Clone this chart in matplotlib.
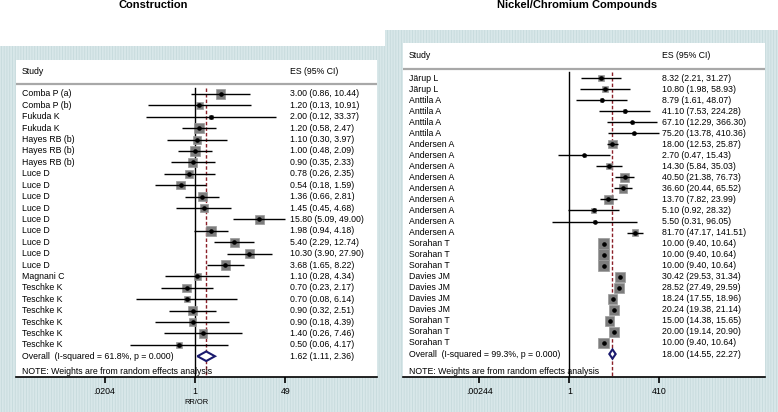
import matplotlib.pyplot as plt
import numpy as np
from matplotlib.patches import Rectangle, Polygon
from matplotlib.transforms import blended_transform_factory

plt.rcParams['font.family'] = ['Liberation Sans', 'DejaVu Sans']
plt.rcParams['hatch.linewidth'] = 0.6

# ---- Construction ----
con_study = ["Comba P (a)", "Comba P (b)", "Fukuda K", "Fukuda K", "Hayes RB (b)",
             "Hayes RB (b)", "Hayes RB (b)", "Luce D", "Luce D", "Luce D", "Luce D",
             "Luce D", "Luce D", "Luce D", "Luce D", "Luce D", "Magnani C",
             "Teschke K", "Teschke K", "Teschke K", "Teschke K", "Teschke K", "Teschke K"]
con_es = [3.00, 1.20, 2.00, 1.20, 1.10, 1.00, 0.90, 0.78, 0.54, 1.36, 1.45, 15.80,
          1.98, 5.40, 10.30, 3.68, 1.10, 0.70, 0.70, 0.90, 0.90, 1.40, 0.50]
con_lo = [0.86, 0.13, 0.12, 0.58, 0.30, 0.48, 0.35, 0.26, 0.18, 0.66, 0.45, 5.09,
          0.94, 2.29, 3.90, 1.65, 0.28, 0.23, 0.08, 0.32, 0.18, 0.26, 0.06]
con_hi = [10.44, 10.91, 33.37, 2.47, 3.97, 2.09, 2.33, 2.35, 1.59, 2.81, 4.68, 49.00,
          4.18, 12.74, 27.90, 8.22, 4.34, 2.17, 6.14, 2.51, 4.39, 7.46, 4.17]
con_w = [5.2, 2.8, 1.1, 5.9, 3.9, 5.2, 5.2, 4.5, 4.5, 5.2, 3.9, 5.2, 5.9, 5.2, 5.2,
         5.2, 3.3, 4.5, 2.3, 5.2, 3.3, 4.5, 2.3]
con_overall = (1.62, 1.11, 2.36)
con_i2 = "61.8%"

# ---- Nickel/Chromium ----
ni_study = ["Järup L", "Järup L", "Anttila A", "Anttila A", "Anttila A", "Anttila A",
            "Andersen A", "Andersen A", "Andersen A", "Andersen A", "Andersen A",
            "Andersen A", "Andersen A", "Andersen A", "Andersen A", "Sorahan T",
            "Sorahan T", "Sorahan T", "Davies JM", "Davies JM", "Davies JM",
            "Davies JM", "Sorahan T", "Sorahan T", "Sorahan T"]
ni_es = [8.32, 10.80, 8.79, 41.10, 67.10, 75.20, 18.00, 2.70, 14.30, 40.50, 36.60,
         13.70, 5.10, 5.50, 81.70, 10.00, 10.00, 10.00, 30.42, 28.52, 18.24, 20.24,
         15.00, 20.00, 10.00]
ni_lo = [2.21, 1.98, 1.61, 7.53, 12.29, 13.78, 12.53, 0.47, 5.84, 21.38, 20.44,
         7.82, 0.92, 0.31, 47.17, 9.40, 9.40, 9.40, 29.53, 27.49, 17.55, 19.38,
         14.38, 19.14, 9.40]
ni_hi = [31.27, 58.93, 48.07, 224.28, 366.30, 410.36, 25.87, 15.43, 35.03, 76.73,
         65.52, 23.99, 28.32, 96.05, 141.51, 10.64, 10.64, 10.64, 31.34, 29.59,
         18.96, 21.14, 15.65, 20.90, 10.64]
ni_w = [2.0, 2.0, 0.7, 0.7, 0.7, 0.7, 4.6, 0.7, 2.5, 4.6, 4.6, 4.6, 1.3, 0.7, 2.5,
        7.4, 7.4, 7.4, 6.6, 6.6, 5.9, 5.9, 5.9, 6.6, 7.4]
ni_overall = (18.00, 14.55, 22.27)
ni_i2 = "99.3%"

W, H = 778, 412
fig = plt.figure(figsize=(W / 100, H / 100), dpi=100)

BG = '#d8e7e9'


def px_rect(x0, y0, x1, y1):
    return [x0 / W, 1 - y1 / H, (x1 - x0) / W, (y1 - y0) / H]


def forest(rect, title, title_x, study, es, lo, hi, w, overall, i2, xlim, ticks,
           ticklabels, ylim, box_scale, es_x, xlabel=None):
    ax = fig.add_axes(rect, zorder=2)
    ax.set_xscale('log')
    ax.set_xlim(*xlim)
    ax.set_ylim(*ylim)
    n = len(study)
    y = np.arange(n)
    tr = blended_transform_factory(ax.transAxes, ax.transData)
    fs = 6.3

    # header
    ax.text(0.0166, -2.0, "Study", transform=tr, fontsize=fs, va='center')
    ax.text(es_x, -2.0, "ES (95% CI)", transform=tr, fontsize=fs, va='center')
    ax.plot([0, 1], [-0.85, -0.85], transform=tr, color='#a8a8a8', lw=1.6,
            solid_capstyle='butt', clip_on=False)

    # reference lines
    ax.plot([1, 1], [-0.55, ylim[0]], color='black', lw=1.0)
    ax.plot([overall[0]] * 2, [-0.55, ylim[0]], color='#8b1f28', lw=1.0,
            dashes=(2.5, 1.5))

    # studies
    sides = box_scale * np.sqrt(np.array(w)) * 0.72
    ax.scatter(es, y, s=sides ** 2, marker='s', color='#7d7d7d',
               edgecolors='#9a9a9a', linewidths=0.5, zorder=3)
    ax.hlines(y, lo, hi, color='black', lw=1.0, zorder=4)
    ax.plot(es, y, 'o', color='black', ms=2.3, zorder=5)
    for i in range(n):
        ax.text(0.0166, y[i], study[i], transform=tr, fontsize=fs, va='center')
        ax.text(es_x, y[i], f"{es[i]:.2f} ({lo[i]:.2f}, {hi[i]:.2f})",
                transform=tr, fontsize=fs, va='center')

    # overall
    oy = n
    o_es, o_lo, o_hi = overall
    d = 0.42
    ax.add_patch(Polygon([(o_lo, oy), (o_es, oy - d), (o_hi, oy), (o_es, oy + d)],
                         closed=True, facecolor='white', edgecolor='#1a1a6e',
                         lw=1.5, zorder=6))
    ax.text(0.0166, oy, f"Overall  (I-squared = {i2}, p = 0.000)", transform=tr,
            fontsize=fs, va='center')
    ax.text(es_x, oy, f"{o_es:.2f} ({o_lo:.2f}, {o_hi:.2f})", transform=tr,
            fontsize=fs, va='center')
    ax.text(0.0166, ylim[0] - 0.08, "NOTE: Weights are from random effects analysis",
            transform=tr, fontsize=fs, va='bottom')

    for s in ['left', 'right', 'top']:
        ax.spines[s].set_visible(False)
    ax.spines['bottom'].set_linewidth(1.2)
    ax.set_yticks([])
    ax.set_xticks(ticks)
    ax.set_xticklabels(ticklabels, fontsize=fs)
    ax.minorticks_off()
    ax.tick_params(axis='x', length=4, width=1.2, pad=3)
    if xlabel:
        ax.set_xlabel(xlabel, fontsize=5.4, labelpad=2)
    fig.text(title_x / W, 1 - 5.5 / H, title, fontsize=8.0, fontweight='bold',
             ha='center', va='center')
    return ax


# backgrounds
bg = fig.add_axes([0, 0, 1, 1], zorder=0)
bg.set_xlim(0, W)
bg.set_ylim(H, 0)
bg.axis('off')
bg.add_patch(Rectangle((0, 46), 385, H - 46, facecolor=BG, edgecolor='#c6dadc',
                       hatch='||||||', lw=0))
bg.add_patch(Rectangle((385, 30), W - 385, H - 30, facecolor=BG, edgecolor='#c6dadc',
                       hatch='||||||', lw=0))

# Construction panel: 1 at px 195, 53.5 px/decade, axes 16..377
forest(px_rect(16, 60, 377, 377), "Construction", 153, con_study, con_es, con_lo,
       con_hi, con_w, con_overall, con_i2,
       (10 ** ((16 - 195) / 53.5), 10 ** ((377 - 195) / 53.5)),
       [1 / 49, 1, 49], [".0204", "1", "49"], (24.82, -2.98), 4.0, 0.759,
       xlabel="RR/OR")

# Nickel/Chromium panel: 1 at px 569.3, 34.4 px/decade, axes 403..765
forest(px_rect(403, 43, 765, 377), "Nickel/Chromium Compounds", 577, ni_study, ni_es,
       ni_lo, ni_hi, ni_w, ni_overall, ni_i2,
       (10 ** ((403 - 569.3) / 34.4), 10 ** ((765 - 569.3) / 34.4)),
       [1 / 410, 1, 410], [".00244", "1", "410"], (27.08, -3.17), 3.9, 0.715)

fig.savefig("out.png", dpi=100)
